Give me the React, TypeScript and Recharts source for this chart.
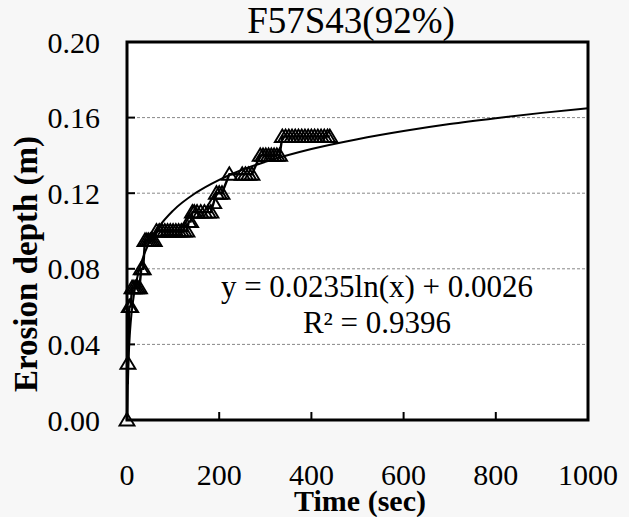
import React from 'react';
import {
  LineChart,
  Line,
  XAxis,
  YAxis,
  CartesianGrid,
  ReferenceArea,
} from 'recharts';

// measured erosion depth over time
const time = [
  0, 2, 5, 8, 11, 15, 19, 23, 27, 31, 35, 39, 43, 47, 51, 55, 59, 64, 70, 76, 82, 88, 94, 100, 106, 112,
  118, 124, 130, 134, 138, 142, 146, 152, 160, 168, 176, 182, 188, 194, 200, 206, 222, 250, 257, 264, 271,
  289, 295, 301, 307, 313, 319, 325, 331, 337, 344, 351, 358, 365, 372, 379, 386, 393, 400, 407, 414, 421,
  428, 435, 440,
];
const depth = [
  0, 0.03, 0.06, 0.06, 0.07, 0.07, 0.07, 0.07, 0.07, 0.08, 0.08, 0.095, 0.095, 0.095, 0.095, 0.095, 0.095,
  0.1, 0.1, 0.1, 0.1, 0.1, 0.1, 0.1, 0.1, 0.1, 0.1, 0.1, 0.1, 0.105, 0.105, 0.11, 0.11, 0.11, 0.11, 0.11,
  0.11, 0.11, 0.115, 0.12, 0.12, 0.12, 0.13, 0.13, 0.13, 0.13, 0.13, 0.14, 0.14, 0.14, 0.14, 0.14, 0.14,
  0.14, 0.14, 0.15, 0.15, 0.15, 0.15, 0.15, 0.15, 0.15, 0.15, 0.15, 0.15, 0.15, 0.15, 0.15, 0.15, 0.15, 0.15,
];

// log trendline
const fitTime = [2, 3, 4, 6, 8, 10, 15, 20, 30, 40, 50, 70, 100, 150, 200, 250, 300, 400, 500, 600, 700, 800, 900, 1000];
const fitDepth = [
  0.0189, 0.0284, 0.0352, 0.0447, 0.0515, 0.0567, 0.0662, 0.073, 0.0825, 0.0893, 0.0945, 0.1024, 0.1108,
  0.1203, 0.1271, 0.1324, 0.1366, 0.1434, 0.1486, 0.1529, 0.1566, 0.1597, 0.1625, 0.1649,
];

const xTicks = [0, 200, 400, 600, 800, 1000];
const yTicks = [0, 0.04, 0.08, 0.12, 0.16, 0.2];

const FONT = "'Liberation Serif', 'Times New Roman', serif";
const W = 629;
const H = 517;
const LEFT = 127;
const RIGHT = 588;
const TOP = 42;
const BOTTOM = 420;

const measured = time.map((t, i) => ({ t, d: depth[i] }));
const trend = fitTime.map((t, i) => ({ t, d: fitDepth[i] }));

const Triangle = (props: any) => {
  const { cx, cy, index } = props;
  if (cx == null || cy == null) return <g key={index} />;
  return (
    <path
      key={index}
      d={`M${cx},${cy - 7} L${cx - 7.5},${cy + 5.5} L${cx + 7.5},${cy + 5.5} Z`}
      fill="none"
      stroke="#000"
      strokeWidth={1.9}
    />
  );
};

const XTick = (props: any) => {
  const { x, payload } = props;
  return (
    <g>
      <line x1={x} x2={x} y1={BOTTOM} y2={BOTTOM - 8} stroke="#000" strokeWidth={2} />
      <text x={x} y={485} textAnchor="middle" fontFamily={FONT} fontSize={30} fill="#000">
        {payload.value}
      </text>
    </g>
  );
};

const YTick = (props: any) => {
  const { y, payload } = props;
  return (
    <g>
      <line x1={LEFT} x2={LEFT + 8} y1={y} y2={y} stroke="#000" strokeWidth={2} />
      <text x={100} y={y + 10.5} textAnchor="end" fontFamily={FONT} fontSize={30} fill="#000">
        {Number(payload.value).toFixed(2)}
      </text>
    </g>
  );
};

export default function App() {
  return (
    <div style={{ position: 'absolute', left: 0, top: 0, width: W, height: H, background: '#f7f7f7' }}>
      <LineChart
        width={W}
        height={H}
        margin={{ top: TOP, right: W - RIGHT, left: 0, bottom: 0 }}
      >
        <CartesianGrid
          horizontal
          vertical={false}
          fill="#fff"
          stroke="#888"
          strokeDasharray="3 2"
        />
        <ReferenceArea
          x1={0}
          x2={1000}
          y1={0}
          y2={0.2}
          fill="none"
          stroke="#000"
          strokeWidth={3}
          ifOverflow="visible"
        />
        <XAxis
          dataKey="t"
          type="number"
          domain={[0, 1000]}
          ticks={xTicks}
          height={H - BOTTOM}
          axisLine={false}
          tickLine={false}
          tick={<XTick />}
          interval={0}
        />
        <YAxis
          type="number"
          domain={[0, 0.2]}
          ticks={yTicks}
          width={LEFT}
          axisLine={false}
          tickLine={false}
          tick={<YTick />}
          interval={0}
        />
        <Line
          data={trend}
          dataKey="d"
          type="monotone"
          stroke="#000"
          strokeWidth={2}
          dot={false}
          activeDot={false}
          isAnimationActive={false}
        />
        <Line
          data={measured}
          dataKey="d"
          type="linear"
          stroke="#000"
          strokeWidth={2.4}
          dot={Triangle}
          activeDot={false}
          isAnimationActive={false}
        />
      </LineChart>
      <svg
        width={W}
        height={H}
        style={{ position: 'absolute', left: 0, top: 0, pointerEvents: 'none' }}
      >
        <text x={351} y={33} textAnchor="middle" fontFamily={FONT} fontSize={37} fill="#000">
          F57S43(92%)
        </text>
        <text x={377} y={297} textAnchor="middle" fontFamily={FONT} fontSize={31} fill="#000">
          y = 0.0235ln(x) + 0.0026
        </text>
        <text x={377} y={333} textAnchor="middle" fontFamily={FONT} fontSize={31} fill="#000">
          R² = 0.9396
        </text>
        <text x={360} y={511} textAnchor="middle" fontFamily={FONT} fontSize={30} fontWeight="bold" fill="#000">
          Time (sec)
        </text>
        <text
          x={0}
          y={0}
          transform="translate(37,264) rotate(-90)"
          textAnchor="middle"
          fontFamily={FONT}
          fontSize={33}
          fontWeight="bold"
          fill="#000"
        >
          Erosion depth (m)
        </text>
      </svg>
    </div>
  );
}
